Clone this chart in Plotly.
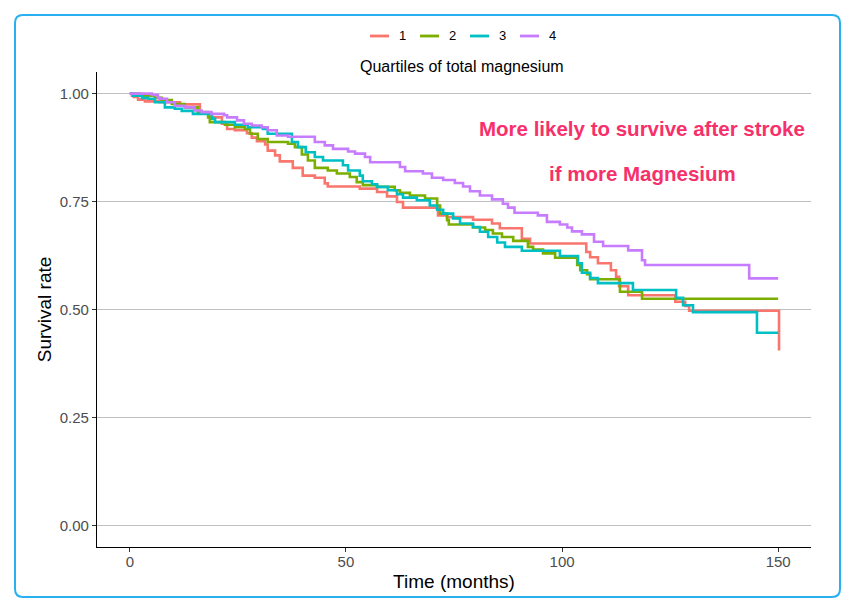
import plotly.graph_objects as go

# ---- data ----
groups = ["1", "2", "3", "4"]
colors = ["#F8766D", "#7CAE00", "#00BFC4", "#C77CFF"]

t1 = [0, 0.5, 0.9, 1.9, 3.5, 6.9, 11.6, 16.2, 18.5, 21.3, 22.5, 24.3, 27.1, 28.2, 29.4, 31.3, 31.9, 33.6,
      34.7, 37.7, 40.0, 42.8, 45.1, 45.8, 53.2, 57.2, 59.5, 61.8, 63.2, 71.3, 73.4, 79.4, 83.8, 85.6, 90.7,
      92.6, 105.6, 106.5, 108.3, 111.3, 112.5, 113.2, 115.3, 126.2, 128.5, 129.4, 150.2, 150.2]
s1 = [1.0, 0.995, 0.992, 0.986, 0.982, 0.98, 0.975, 0.956, 0.945, 0.93, 0.918, 0.915, 0.908, 0.898, 0.89,
      0.882, 0.868, 0.857, 0.843, 0.828, 0.81, 0.805, 0.792, 0.785, 0.78, 0.772, 0.762, 0.749, 0.736, 0.718,
      0.714, 0.708, 0.699, 0.688, 0.664, 0.653, 0.633, 0.621, 0.607, 0.591, 0.576, 0.554, 0.533, 0.518,
      0.508, 0.497, 0.497, 0.405]

t2 = [0, 2.3, 5.8, 7.4, 9.7, 12.7, 15.7, 18.1, 18.5, 22.0, 24.3, 26.6, 27.8, 29.6, 31.9, 36.6, 38.2, 39.8,
      41.2, 42.8, 45.8, 47.9, 50.9, 52.5, 53.9, 57.2, 61.3, 62.5, 64.8, 68.3, 71.1, 71.8, 73.4, 73.8, 79.4,
      82.2, 84.0, 86.1, 88.7, 92.1, 93.3, 95.6, 98.4, 103.5, 104.2, 105.8, 106.5, 113.4, 118.5, 150.0]
s2 = [1.0, 0.995, 0.99, 0.985, 0.976, 0.968, 0.957, 0.945, 0.934, 0.928, 0.922, 0.918, 0.907, 0.895,
      0.888, 0.884, 0.876, 0.859, 0.845, 0.828, 0.822, 0.815, 0.807, 0.795, 0.788, 0.784, 0.776, 0.77,
      0.764, 0.757, 0.741, 0.722, 0.707, 0.697, 0.69, 0.684, 0.676, 0.668, 0.659, 0.645, 0.639, 0.63, 0.62,
      0.603, 0.591, 0.582, 0.57, 0.541, 0.525, 0.525]

t3 = [0, 0.7, 2.8, 4.2, 5.8, 8.1, 10.4, 12.0, 14.6, 19.0, 19.7, 24.3, 27.3, 30.8, 31.9, 37.5, 38.9, 40.7,
      42.8, 44.7, 49.3, 50.5, 53.2, 53.9, 56.0, 57.2, 59.7, 61.8, 63.2, 66.4, 69.4, 71.1, 72.5, 74.8, 76.4,
      79.4, 81.0, 82.9, 85.0, 86.8, 90.7, 99.5, 103.7, 104.6, 106.5, 108.3, 116.4, 126.4, 128.0, 130.3,
      145.1, 150.0]
s3 = [1.0, 0.995, 0.99, 0.988, 0.98, 0.968, 0.965, 0.96, 0.953, 0.942, 0.934, 0.928, 0.922, 0.918, 0.907,
      0.888, 0.876, 0.864, 0.853, 0.845, 0.834, 0.822, 0.81, 0.797, 0.79, 0.784, 0.776, 0.767, 0.759, 0.753,
      0.741, 0.731, 0.722, 0.711, 0.699, 0.691, 0.68, 0.668, 0.655, 0.645, 0.636, 0.624, 0.607, 0.585,
      0.573, 0.561, 0.545, 0.527, 0.51, 0.494, 0.446, 0.446]

t4 = [0, 5.1, 6.5, 6.9, 8.6, 10.4, 12.7, 15.0, 16.6, 18.9, 21.8, 22.5, 24.8, 26.4, 28.2, 30.5, 31.9, 34.0,
      36.6, 42.8, 45.1, 47.0, 50.5, 52.1, 54.4, 55.6, 62.5, 63.7, 67.8, 69.9, 72.5, 75.2, 77.1, 78.7, 81.0,
      83.8, 86.3, 87.5, 89.0, 94.4, 96.5, 99.5, 101.2, 102.3, 104.6, 107.4, 109.5, 115.3, 118.5, 119.2,
      143.3, 150.0]
s4 = [1.0, 0.997, 0.99, 0.988, 0.98, 0.972, 0.968, 0.961, 0.957, 0.953, 0.95, 0.945, 0.938, 0.93, 0.926,
      0.922, 0.915, 0.903, 0.9, 0.888, 0.88, 0.872, 0.866, 0.861, 0.853, 0.841, 0.83, 0.82, 0.815, 0.805,
      0.8, 0.793, 0.785, 0.774, 0.764, 0.755, 0.745, 0.736, 0.724, 0.718, 0.703, 0.697, 0.69, 0.681, 0.674,
      0.657, 0.647, 0.637, 0.614, 0.603, 0.572, 0.572]

times = [t1, t2, t3, t4]
surv = [s1, s2, s3, s4]

x_ticks = [0, 50, 100, 150]
y_ticks = [0, 0.25, 0.5, 0.75, 1.0]
y_ticktext = ["0.00", "0.25", "0.50", "0.75", "1.00"]

legend_title = "Quartiles of total magnesium"
note_lines = ["More likely to survive after stroke", "if more Magnesium"]

# ---- layout geometry (page pixels; page body has an 8px margin) ----
OFF = 8
W, H = 858 - 2 * OFF, 612 - 2 * OFF
PL, PR, PT, PB = 97, 811, 72, 547          # plot box in page pixels
ML, MR, MT, MB = PL - OFF, W - (PR - OFF), PT - OFF, H - (PB - OFF)
PW, PH = W - ML - MR, H - MT - MB

def px(x):
    return (x - OFF - ML) / PW

def py(y):
    return (H - MB - (y - OFF)) / PH

fig = go.Figure()
for g, c, tt, ss in zip(groups, colors, times, surv):
    fig.add_trace(go.Scatter(x=tt, y=ss, mode="lines", name=g, showlegend=False,
                             line=dict(color=c, width=2.6, shape="hv")))

font_main = "Liberation Sans, Arial, sans-serif"

fig.update_layout(
    width=W, height=H,
    margin=dict(l=ML, r=MR, t=MT, b=MB),
    paper_bgcolor="white", plot_bgcolor="white",
    font=dict(family=font_main, color="black"),
    showlegend=False,
    xaxis=dict(range=[-7.6, 157.6], tickvals=x_ticks, showgrid=False, zeroline=False,
               showline=True, linecolor="black", linewidth=1.2,
               ticks="outside", ticklen=4, tickcolor="#333333", ticklabelstandoff=-3,
               tickfont=dict(size=15, color="#4d4d4d"),
               title=dict(text="Time (months)", font=dict(size=19, color="black"), standoff=5)),
    yaxis=dict(range=[-0.05, 1.05], tickvals=y_ticks, ticktext=y_ticktext, showgrid=True,
               gridcolor="#c0c0c0", gridwidth=1, zeroline=False,
               showline=True, linecolor="black", linewidth=1.2,
               ticks="outside", ticklen=4, tickcolor="#333333",
               tickfont=dict(size=15, color="#4d4d4d"),
               title=dict(text="Survival rate", font=dict(size=19, color="black"), standoff=3)),
)

# legend (keys drawn above the panel, title below the keys)
key_x0 = [370, 420, 470, 520]
for g, c, kx in zip(groups, colors, key_x0):
    fig.add_shape(type="line", xref="paper", yref="paper",
                  x0=px(kx), x1=px(kx + 19), y0=py(36), y1=py(36),
                  line=dict(color=c, width=2.8))
    fig.add_annotation(x=px(kx + 27), y=py(36), xref="paper", yref="paper", text=g,
                       showarrow=False, font=dict(size=13, color="black"),
                       xanchor="left", yanchor="middle")
fig.add_annotation(x=px(462), y=py(67), xref="paper", yref="paper", text=legend_title,
                   showarrow=False, font=dict(size=16, color="black"), xanchor="center", yanchor="middle")

fig.add_annotation(x=px(642), y=py(128), xref="paper", yref="paper", text="<b>%s</b>" % note_lines[0],
                   showarrow=False, font=dict(size=20.5, color="#F7306B"), xanchor="center", yanchor="middle")
fig.add_annotation(x=px(642), y=py(173), xref="paper", yref="paper", text="<b>%s</b>" % note_lines[1],
                   showarrow=False, font=dict(size=20.5, color="#F7306B"), xanchor="center", yanchor="middle")

# rounded blue frame around the figure
x0, x1, y0, y1, r = 15, 840, 15, 597, 8
path = (f"M {px(x0 + r)} {py(y0)} L {px(x1 - r)} {py(y0)} Q {px(x1)} {py(y0)} {px(x1)} {py(y0 + r)} "
        f"L {px(x1)} {py(y1 - r)} Q {px(x1)} {py(y1)} {px(x1 - r)} {py(y1)} "
        f"L {px(x0 + r)} {py(y1)} Q {px(x0)} {py(y1)} {px(x0)} {py(y1 - r)} "
        f"L {px(x0)} {py(y0 + r)} Q {px(x0)} {py(y0)} {px(x0 + r)} {py(y0)} Z")
fig.add_shape(type="path", path=path, xref="paper", yref="paper",
              line=dict(color="#29B0F0", width=2), fillcolor="rgba(0,0,0,0)", layer="above")

fig.write_html("out.html")
